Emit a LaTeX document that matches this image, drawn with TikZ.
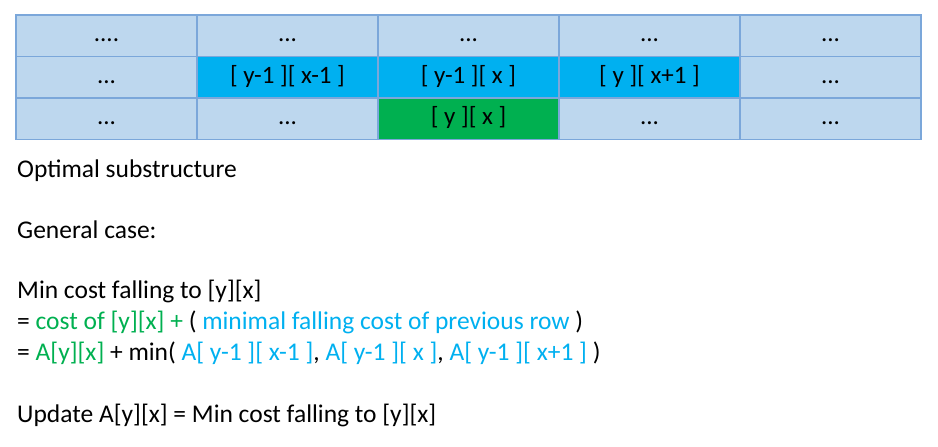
\documentclass[tikz,border=0pt]{standalone}
\usepackage{fontspec}
\setmainfont{Carlito}
\definecolor{cellbg}{HTML}{BDD7EE}
\definecolor{cellline}{HTML}{7BA7DA}
\definecolor{hiblue}{HTML}{00B0F0}
\definecolor{higreen}{HTML}{00B050}
\tikzset{
  cell/.style={draw=cellline, line width=1.6pt, fill=cellbg, minimum width=181pt, minimum height=41.5pt, inner sep=0pt, font=\fontsize{25}{30}\selectfont, text height=17pt, text depth=5pt},
  bluecell/.style={cell, fill=hiblue},
  greencell/.style={cell, fill=higreen},
  body/.style={anchor=base west, inner sep=0pt, font=\fontsize{25.5}{30}\selectfont}
}
\begin{document}
\begin{tikzpicture}[x=1pt,y=-1pt]
\useasboundingbox (0,0) rectangle (938,447);
% row 1
\node[cell] (r1c1) at (106.5,35.75) {....};
\node[cell] (r1c2) at (287.5,35.75) {...};
\node[cell] (r1c3) at (468.5,35.75) {...};
\node[cell] (r1c4) at (649.5,35.75) {...};
\node[cell] (r1c5) at (830.5,35.75) {...};
% row 2
\node[cell] (r2c1) at (106.5,77.25) {...};
\node[bluecell] (r2c2) at (287.5,77.25) {[ y-1 ][ x-1 ]};
\node[bluecell] (r2c3) at (468.5,77.25) {[ y-1 ][ x ]};
\node[bluecell] (r2c4) at (649.5,77.25) {[ y ][ x+1 ]};
\node[cell] (r2c5) at (830.5,77.25) {...};
% row 3
\node[cell] (r3c1) at (106.5,118.75) {...};
\node[cell] (r3c2) at (287.5,118.75) {...};
\node[greencell] (r3c3) at (468.5,118.75) {[ y ][ x ]};
\node[cell] (r3c4) at (649.5,118.75) {...};
\node[cell] (r3c5) at (830.5,118.75) {...};
% text
\node[body] (t1) at (17,177) {Optimal substructure};
\node[body] (t2) at (17,238) {General case:};
\node[body] (t3) at (17,298) {Min cost falling to [y][x]};
\node[body] (t4) at (17,329) {= \textcolor{higreen}{cost of [y][x] +} ( \textcolor{hiblue}{minimal falling cost of previous row} )};
\node[body] (t5) at (17,360) {= \textcolor{higreen}{A[y][x]} + min( \textcolor{hiblue}{A[ y-1 ][ x-1 ]}, \textcolor{hiblue}{A[ y-1 ][ x ]}, \textcolor{hiblue}{A[ y-1 ][ x+1 ]} )};
\node[body] (t6) at (17,422) {Update A[y][x] = Min cost falling to [y][x]};
\end{tikzpicture}
\end{document}
